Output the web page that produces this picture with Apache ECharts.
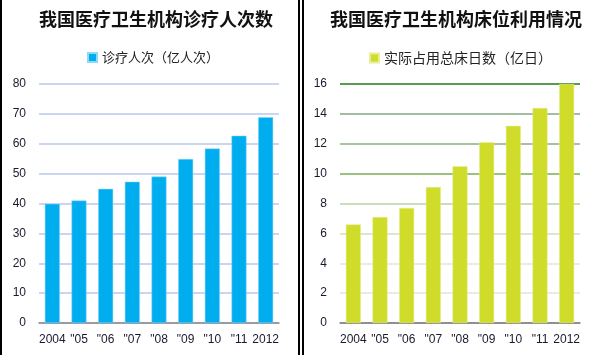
<!DOCTYPE html>
<html><head><meta charset="utf-8">
<script src="https://cdn.jsdelivr.net/npm/echarts@6/dist/echarts.min.js"></script>
<style>html,body{margin:0;padding:0;background:#fff}#c{width:592px;height:355px}</style>
</head><body><div id="c"></div>
<script>
const categories = ['2004', '"05', '"06', '"07', '"08', '"09', '"10', '"11', '2012'];
const visits = [39.9, 41.0, 44.9, 47.3, 49.0, 54.9, 58.4, 62.7, 68.9];
const bedDays = [6.6, 7.1, 7.7, 9.1, 10.5, 12.1, 13.2, 14.4, 16.0];
const leftTicks = [0, 10, 20, 30, 40, 50, 60, 70, 80];
const rightTicks = [0, 2, 4, 6, 8, 10, 12, 14, 16];
const leftTitle = '我国医疗卫生机构诊疗人次数';
const rightTitle = '我国医疗卫生机构床位利用情况';
const leftSeriesName = '诊疗人次（亿人次）';
const rightSeriesName = '实际占用总床日数（亿日）';

const chart = echarts.init(document.getElementById('c'), null, {renderer: 'canvas'});
const font = '"Noto Sans CJK SC", sans-serif';
const axisLab = {color: '#1a1a2e', fontSize: 12, fontFamily: 'Arial, "Liberation Sans", sans-serif'};
chart.setOption({
  animation: false,
  backgroundColor: '#fff',
  title: [
    {text: leftTitle, left: 151, top: 5, textAlign: 'center',
     textStyle: {fontSize: 18, fontWeight: 'bold', color: '#111', fontFamily: font}},
    {text: rightTitle, left: 451, top: 5, textAlign: 'center',
     textStyle: {fontSize: 18, fontWeight: 'bold', color: '#111', fontFamily: font}}
  ],
  legend: [
    {data: [leftSeriesName], left: 82, top: 46, itemWidth: 9, itemHeight: 9, itemGap: 4,
     icon: 'rect', textStyle: {fontSize: 13, color: '#222', fontFamily: font}},
    {data: [rightSeriesName], left: 364, top: 46, itemWidth: 9, itemHeight: 9, itemGap: 4,
     icon: 'rect', textStyle: {fontSize: 14, color: '#222', fontFamily: font}}
  ],
  grid: [
    {left: 39, width: 240, top: 84, height: 239},
    {left: 340, width: 240, top: 84, height: 239}
  ],
  xAxis: [0, 1].map(i => ({
    type: 'category', gridIndex: i, data: categories,
    axisLine: {lineStyle: {color: '#888', width: 1.5}},
    axisTick: {show: false},
    axisLabel: Object.assign({margin: 11, interval: 0}, axisLab)
  })),
  yAxis: [
    {type: 'value', gridIndex: 0, min: leftTicks[0], max: leftTicks[leftTicks.length - 1], interval: 10,
     axisLine: {show: false}, axisTick: {show: false},
     axisLabel: Object.assign({margin: 13}, axisLab),
     splitLine: {lineStyle: {color: '#b8c8ec', width: 1.5}}},
    {type: 'value', gridIndex: 1, min: rightTicks[0], max: rightTicks[rightTicks.length - 1], interval: 2,
     axisLine: {show: false}, axisTick: {show: false},
     axisLabel: Object.assign({margin: 13}, axisLab),
     splitLine: {lineStyle: {width: 1.5,
       color: ['#888', '#dfe9d3', '#dfe9d3', '#cfdfc0', '#b9d3a3', '#78ad55', '#8db07e', '#86a887', '#1f7a12']}}}
  ],
  series: [
    {type: 'bar', name: leftSeriesName, xAxisIndex: 0, yAxisIndex: 0, data: visits,
     barWidth: 15, itemStyle: {color: '#00aeef', borderColor: '#8fd8f7', borderWidth: 0.5}},
    {type: 'bar', name: rightSeriesName, xAxisIndex: 1, yAxisIndex: 1, data: bedDays,
     barWidth: 15, itemStyle: {color: '#cfdc29', borderColor: '#e6ee99', borderWidth: 0.5}}
  ],
  graphic: [
    {type: 'rect', shape: {x: 0, y: 0, width: 2, height: 355}, style: {fill: '#000'}},
    {type: 'rect', shape: {x: 298, y: 0, width: 2, height: 355}, style: {fill: '#000'}},
    {type: 'rect', shape: {x: 302, y: 0, width: 2, height: 355}, style: {fill: '#000'}}
  ]
});
</script></body></html>
